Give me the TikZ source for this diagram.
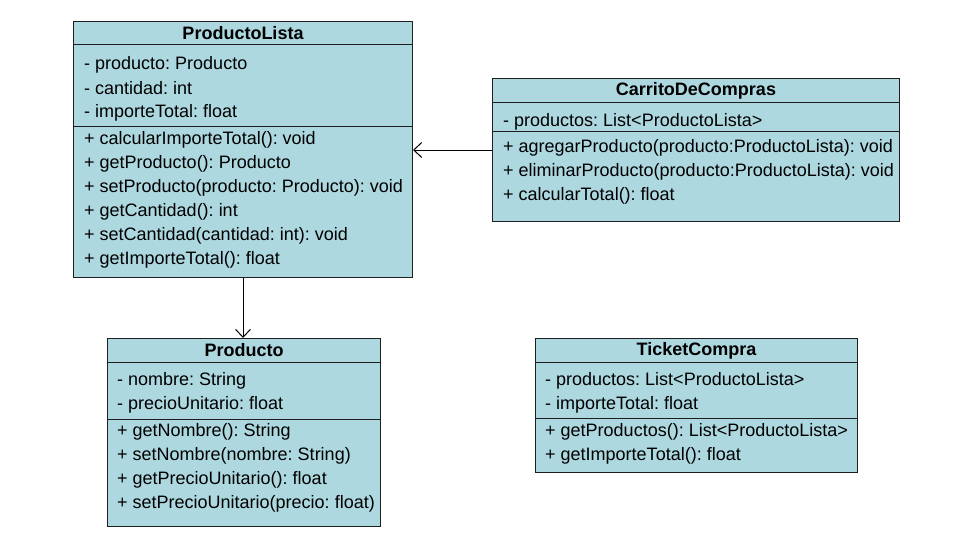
\documentclass[tikz,border=0pt]{standalone}
\usepackage{fontspec}
\setmainfont{Liberation Sans}
\usepackage{xcolor}
\usepackage{tikz}
\usetikzlibrary{arrows.meta,calc,positioning}
\frenchspacing
\definecolor{classfill}{RGB}{173,216,224}
\definecolor{classline}{RGB}{30,30,30}
\tikzset{
  classbox/.style={draw=classline,fill=classfill,line width=1pt,inner sep=0pt,anchor=north west},
  member/.style={anchor=west,inner sep=0pt,font=\fontsize{18}{21}\selectfont},
  classtitle/.style={inner sep=0pt,font=\fontsize{18}{21}\selectfont\bfseries},
  assoc/.style={draw=black,line width=1pt,-{Straight Barb[length=8pt,width=15pt,line width=1pt]}}
}
\newcommand{\umlmembers}[4]{%
  \foreach \mTxt [count=\mK from 0] in {#4}{%
    \node[member] (#1-\mK) at (#2,#3+24*\mK) {\mTxt};%
  }%
}
\newcommand{\umlsplit}[3]{%
  \draw[classline,line width=1pt] (#1.west |- 0,#2) -- (#1.east |- 0,#2);%
  \draw[classline,line width=1pt] (#1.west |- 0,#3) -- (#1.east |- 0,#3);%
}

\begin{document}
\begin{tikzpicture}[x=1pt,y=-1pt]
  \useasboundingbox[fill=white] (0,0) rectangle (955,543);
  % ProductoLista
  \node[classbox,minimum width=339pt,minimum height=256pt] (pl) at (73,21) {};
  \umlsplit{pl}{45}{126}
  \node[classtitle] (pl-title) at ($(pl.north)+(0,12.5)$) {ProductoLista};
  \umlmembers{pla}{84}{64.5}{- producto: Producto,- cantidad: int,- importeTotal: float}
  \umlmembers{plm}{84}{139.5}{+ calcularImporteTotal(): void,+ getProducto(): Producto,+ setProducto(producto: Producto): void,+ getCantidad(): int,+ setCantidad(cantidad: int): void,+ getImporteTotal(): float}
  % CarritoDeCompras
  \node[classbox,minimum width=407pt,minimum height=143pt] (cc) at (492,78) {};
  \umlsplit{cc}{102}{131}
  \node[classtitle] (cc-title) at ($(cc.north)+(0,12.5)$) {CarritoDeCompras};
  \umlmembers{cca}{503}{121.5}{- productos: List<ProductoLista>}
  \umlmembers{ccm}{503}{148}{+ agregarProducto(producto:ProductoLista): void,+ eliminarProducto(producto:ProductoLista): void,+ calcularTotal(): float}
  % Producto
  \node[classbox,minimum width=273pt,minimum height=188pt] (pr) at (107,338) {};
  \umlsplit{pr}{362}{419}
  \node[classtitle] (pr-title) at ($(pr.north)+(0,12.5)$) {Producto};
  \umlmembers{pra}{117}{380.5}{- nombre: String,- precioUnitario: float}
  \umlmembers{prm}{117}{431.5}{+ getNombre(): String,+ setNombre(nombre: String),+ getPrecioUnitario(): float,+ setPrecioUnitario(precio: float)}
  % TicketCompra
  \node[classbox,minimum width=322pt,minimum height=134pt] (tc) at (535,338) {};
  \umlsplit{tc}{362}{418}
  \node[classtitle] (tc-title) at ($(tc.north)+(0,12.5)$) {TicketCompra};
  \umlmembers{tca}{545}{380.5}{- productos: List<ProductoLista>,- importeTotal: float}
  \umlmembers{tcm}{545}{431.5}{+ getProductos(): List<ProductoLista>,+ getImporteTotal(): float}
  % associations
  \draw[assoc] (cc.west) -- (cc.west -| pl.east);
  \draw[assoc] (pl.south) -- (pl.south |- pr.north);
\end{tikzpicture}
\end{document}
